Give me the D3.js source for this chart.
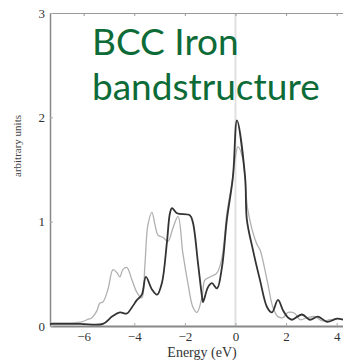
<!DOCTYPE html>
<html>
<head>
<meta charset="utf-8">
<script src="https://cdn.jsdelivr.net/npm/d3@7"></script>
<style>
  body { margin: 0; background: #fff; }
  svg { display: block; }
</style>
</head>
<body>
<div id="chart"></div>
<script>
// energies (eV) and DOS values
let darkE = [-7.33, -6.15, -5.24, -4.88, -4.57, -4.29, -4.09, -3.89, -3.70, -3.54, -3.30, -3.10, -2.91, -2.71, -2.59, -2.51, -2.31, -1.80, -1.68, -1.48, -1.32, -1.28, -1.09, -0.93, -0.73, -0.53, -0.34, -0.10, 0.06, 0.38, 0.45, 0.69, 0.97, 1.25, 1.44, 1.68, 1.88, 2.08, 2.23, 2.63, 2.94, 3.26, 3.62, 4.01, 4.25];
let darkD = [0.02, 0.02, 0.02, 0.09, 0.13, 0.12, 0.18, 0.25, 0.30, 0.47, 0.35, 0.30, 0.41, 0.80, 1.08, 1.13, 1.08, 1.06, 0.99, 0.60, 0.28, 0.23, 0.37, 0.41, 0.36, 0.57, 1.02, 1.43, 1.97, 1.43, 1.02, 0.73, 0.44, 0.18, 0.13, 0.25, 0.15, 0.08, 0.06, 0.11, 0.06, 0.09, 0.04, 0.07, 0.06];

let lightE = [-7.33, -6.54, -6.07, -5.87, -5.67, -5.47, -5.36, -5.24, -5.04, -4.84, -4.68, -4.57, -4.45, -4.29, -4.09, -3.89, -3.70, -3.58, -3.46, -3.30, -3.18, -3.06, -2.87, -2.67, -2.47, -2.27, -2.08, -1.88, -1.68, -1.52, -1.32, -1.21, -1.01, -0.73, -0.53, -0.34, -0.14, -0.02, 0.10, 0.30, 0.49, 0.85, 0.97, 1.25, 1.48, 1.68, 1.88, 2.08, 2.35, 2.55, 2.83, 3.14, 3.42, 3.74, 4.05, 4.25];
let lightD = [0.03, 0.03, 0.04, 0.06, 0.08, 0.15, 0.22, 0.23, 0.35, 0.54, 0.51, 0.47, 0.54, 0.56, 0.44, 0.32, 0.27, 0.58, 0.97, 1.09, 0.97, 0.87, 0.85, 0.81, 0.94, 1.05, 0.70, 0.41, 0.18, 0.13, 0.28, 0.44, 0.47, 0.51, 0.66, 1.08, 1.37, 1.59, 1.72, 1.59, 1.11, 0.78, 0.73, 0.44, 0.18, 0.09, 0.08, 0.13, 0.12, 0.06, 0.08, 0.09, 0.05, 0.06, 0.07, 0.06];

let xTicks = [-6, -4, -2, 0, 2, 4];
let yTicks = [0, 1, 2, 3];
let titleLines = ["BCC Iron", "bandstructure"];

let W = 343, H = 363;
let margin = { top: 13, right: 0, bottom: 37, left: 50 };
let width = W - margin.left - margin.right,
    height = H - margin.top - margin.bottom;
let serif = "'Liberation Serif', 'DejaVu Serif', serif";

let svg = d3.select("#chart").append("svg")
    .attr("width", W)
    .attr("height", H)
    .append("g")
    .attr("transform", "translate(" + margin.left + "," + margin.top + ")");

let x = d3.scaleLinear()
    .domain([-7.33, 4.25])
    .range([0, width]);
let y = d3.scaleLinear()
    .domain([0, 3])
    .range([height, 0]);

// zero energy marker
svg.append("line")
    .attr("x1", x(0)).attr("x2", x(0))
    .attr("y1", 0).attr("y2", height)
    .style("stroke", "#e0e0e0")
    .style("stroke-width", 2);

// top frame with small ticks
svg.append("g")
    .call(d3.axisTop(x).tickValues(xTicks).tickSize(-3).tickFormat(""))
    .call(g => g.selectAll("path, line").style("stroke", "#999"));

svg.append("g")
    .attr("transform", "translate(0," + height + ")")
    .call(d3.axisBottom(x).tickValues(xTicks).tickSize(-3).tickPadding(6).tickSizeOuter(0))
    .call(g => g.select(".domain").style("stroke", "#888").style("stroke-width", 2))
    .call(g => g.selectAll(".tick line").style("stroke", "#aaa"))
    .call(g => g.selectAll("text").style("font-family", serif).style("font-size", "13px").style("fill", "#333"));

svg.append("g")
    .call(d3.axisLeft(y).tickValues(yTicks).tickSize(-3).tickPadding(5).tickSizeOuter(0).tickFormat(d3.format("d")))
    .call(g => g.select(".domain").style("stroke", "#888").style("stroke-width", 1.5))
    .call(g => g.selectAll(".tick line").style("stroke", "#aaa"))
    .call(g => g.selectAll("text").style("font-family", serif).style("font-size", "13px").style("fill", "#333"));

let line = d3.line()
    .x(d => x(d[0]))
    .y(d => y(d[1]))
    .curve(d3.curveCatmullRom);

svg.append("path")
    .datum(d3.zip(lightE, lightD))
    .attr("d", line)
    .style("fill", "none")
    .style("stroke", "#b0b0b0")
    .style("stroke-width", 1.3);

svg.append("path")
    .datum(d3.zip(darkE, darkD))
    .attr("d", line)
    .style("fill", "none")
    .style("stroke", "#333")
    .style("stroke-width", 1.8);

// axis titles
svg.append("text")
    .attr("x", 152)
    .attr("y", height + 31)
    .style("font-family", serif)
    .style("font-size", "14px")
    .style("fill", "#333")
    .style("text-anchor", "middle")
    .text("Energy (eV)");

svg.append("text")
    .attr("transform", "translate(-29," + 133 + ") rotate(-90)")
    .style("font-family", serif)
    .style("font-size", "11px")
    .style("fill", "#444")
    .style("text-anchor", "middle")
    .text("arbitrary units");

// green title
svg.selectAll(".title")
    .data(titleLines)
    .enter().append("text")
    .attr("class", "title")
    .attr("x", 42)
    .attr("y", (d, i) => 42 + i * 45)
    .style("font-family", "Lato, sans-serif")
    .style("font-size", "37px")
    .style("fill", "#0d6b37")
    .text(d => d);
</script>
</body>
</html>
